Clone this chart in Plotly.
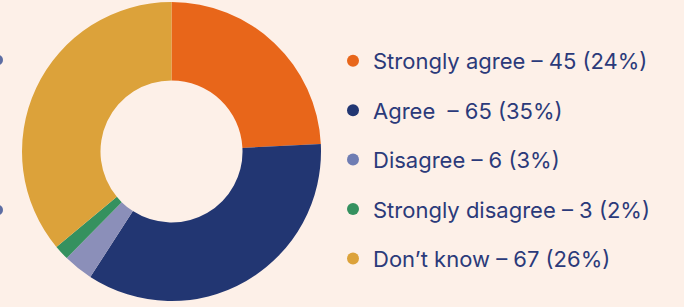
import plotly.graph_objects as go

categories = ["Strongly agree", "Agree", "Disagree", "Strongly disagree", "Don\u2019t know"]
counts = [45, 65, 6, 3, 67]
pct_labels = ["24%", "35%", "3%", "2%", "26%"]
colors = ["#e8661a", "#223672", "#8b8fb9", "#35915f", "#dca23a"]
legend_dot_colors = ["#e8661a", "#223672", "#6f7db3", "#35915f", "#dca23a"]
label_sep = [" \u2013 ", "  \u2013 ", " \u2013 ", " \u2013 ", " \u2013 "]

bg = "#fdf0e8"
text_color = "#2b3a7a"

fig = go.Figure()
fig.add_trace(go.Pie(
    labels=categories, values=counts, sort=False, direction="clockwise",
    rotation=0, hole=0.475, marker=dict(colors=colors, line=dict(width=0)),
    textinfo="none", hoverinfo="label+value+percent", showlegend=False,
    domain=dict(x=[22/684, 321/684], y=[1-301/307, 1-2/307]),
))

for cat, n, p, c, s in zip(categories, counts, pct_labels, legend_dot_colors, label_sep):
    fig.add_trace(go.Scatter(
        x=[None], y=[None], mode="markers", name=f"{cat}{s}{n} ({p})",
        marker=dict(symbol="circle", size=12, color=c), legendgroup=cat,
        showlegend=True,
    ))

# partial decorative markers cut at the left edge
for yc in [60, 210]:
    fig.add_shape(type="circle", xref="paper", yref="paper",
                  x0=-6/684, x1=3/684, y0=1-(yc+5)/307, y1=1-(yc-5)/307,
                  fillcolor="#5d6da3", line=dict(width=0))

fig.update_layout(
    width=684, height=307, margin=dict(l=0, r=0, t=0, b=0),
    paper_bgcolor=bg, plot_bgcolor=bg,
    xaxis=dict(visible=False), yaxis=dict(visible=False),
    legend=dict(x=333/684, xanchor="left", y=1-40/307, yanchor="top",
                font=dict(family="Inter", size=22, color=text_color),
                tracegroupgap=17.8, bgcolor="rgba(0,0,0,0)", itemsizing="trace"),
)

fig.write_html(
    "out.html",
    config={"displayModeBar": False},
    post_script="document.body.style.margin='0';document.body.style.background='#fdf0e8';",
)
